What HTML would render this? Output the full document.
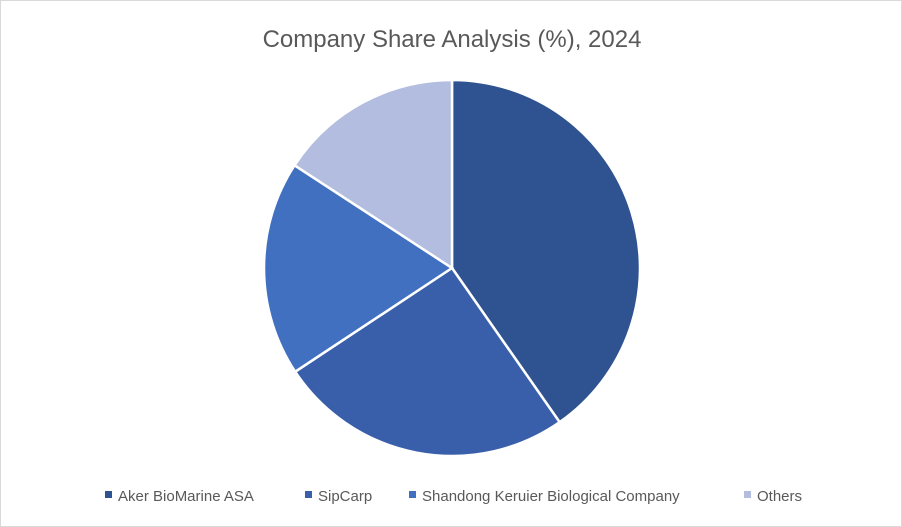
<!DOCTYPE html>
<html><head><meta charset="utf-8"><style>
body{margin:0;background:#fff;}
#wrap{position:relative;width:900px;height:525px;border:1px solid #d9d9d9;background:#fff;font-family:"Liberation Sans",sans-serif;}
svg{position:absolute;left:0;top:0;}
</style></head><body>
<div id="wrap">
<svg id="chart" width="900" height="525">
<text x="451" y="46" text-anchor="middle" font-size="24" fill="#595959" font-family="Liberation Sans, sans-serif">Company Share Analysis (%), 2024</text>
<g id="slices"></g>
<g id="legend"></g>
</svg>
</div>
<script>
const categories = ["Aker BioMarine ASA","SipCarp","Shandong Keruier Biological Company","Others"];
const values = [40.3, 25.4, 18.5, 15.8];
const colors = ["#2F5291","#3A5FAA","#4270C1","#B3BDDF"];
const legendX = [104, 304, 408, 743];
const NS="http://www.w3.org/2000/svg";
const cx=451, cy=267, r=188;
const total=values.reduce((a,b)=>a+b,0);
const g=document.getElementById('slices');
let a0=0;
values.forEach((v,i)=>{
  const a1=a0+v/total*2*Math.PI;
  const x0=cx+r*Math.sin(a0), y0=cy-r*Math.cos(a0);
  const x1=cx+r*Math.sin(a1), y1=cy-r*Math.cos(a1);
  const large=(a1-a0)>Math.PI?1:0;
  const p=document.createElementNS(NS,'path');
  p.setAttribute('d',`M${cx},${cy} L${x0},${y0} A${r},${r} 0 ${large} 1 ${x1},${y1} Z`);
  p.setAttribute('fill',colors[i]);
  p.setAttribute('stroke','#fff');
  p.setAttribute('stroke-width','2.5');
  
  
  g.appendChild(p);
  a0=a1;
});
const lg=document.getElementById('legend');
categories.forEach((c,i)=>{
  const it=document.createElementNS(NS,'g');
  
  
  const rc=document.createElementNS(NS,'rect');
  rc.setAttribute('x',legendX[i]);rc.setAttribute('y',490);
  rc.setAttribute('width',7);rc.setAttribute('height',7);
  rc.setAttribute('fill',colors[i]);
  
  
  const t=document.createElementNS(NS,'text');
  t.setAttribute('x',legendX[i]+13);t.setAttribute('y',500);
  t.setAttribute('font-size','15');t.setAttribute('fill','#595959');
  t.textContent=c;
  
  
  it.appendChild(rc);it.appendChild(t);lg.appendChild(it);
});
</script>
</body></html>
